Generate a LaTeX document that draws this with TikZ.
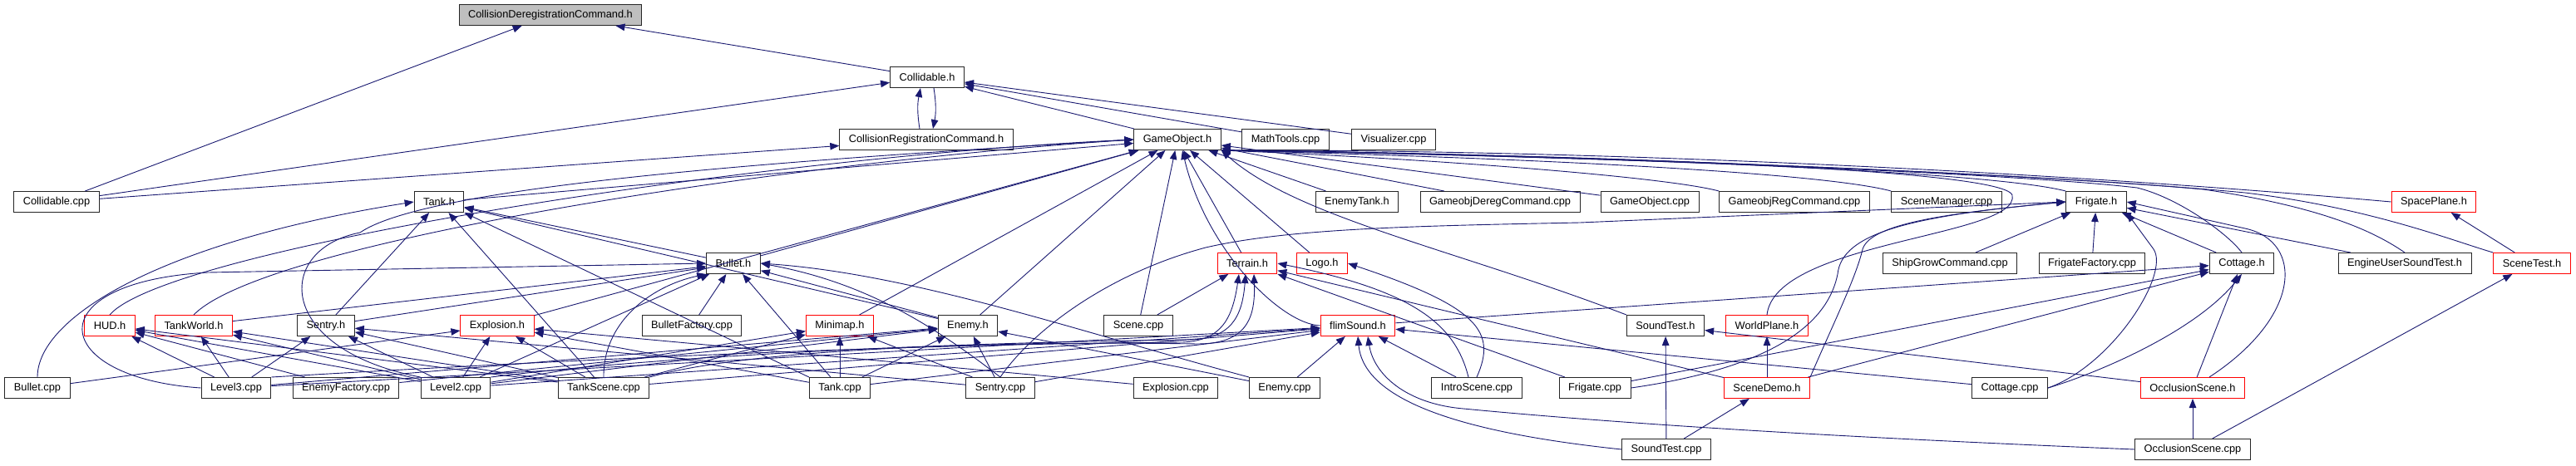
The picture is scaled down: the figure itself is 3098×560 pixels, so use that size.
\documentclass[tikz,border=0pt]{standalone}
\usepackage{fontspec}
\setmainfont{Liberation Sans}
\usetikzlibrary{arrows.meta,calc,positioning}
\definecolor{edgeblue}{RGB}{25,25,112}
\definecolor{rootgray}{RGB}{191,191,191}
\tikzset{
    myfile/.style={draw=black!85,fill=white,line width=1pt,minimum height=25pt,
      inner xsep=11pt,inner ysep=0pt,font=\fontsize{12.8}{15}\selectfont},
    mytrunc/.style={myfile,draw=red},
    myroot/.style={myfile,fill=rootgray},
    myedge/.style={draw=edgeblue,line width=0.9pt,-{Triangle[length=11pt,width=8.5pt]}}
}

\begin{document}
\begin{tikzpicture}[x=1pt,y=-1pt]
  \useasboundingbox (0,0) rectangle (3098,560);

  % 上层
  \node[myroot] (cdch) at (662,18) {CollisionDeregistrationCommand.h};
  \node[myfile] (collh) at (1115,93) {Collidable.h};
  \node[myfile] (crch) at (1114,168) {CollisionRegistrationCommand.h};
  \node[myfile] (goh) at (1416,168) {GameObject.h};
  \node[myfile] (mathcpp) at (1546,168) {MathTools.cpp};
  \node[myfile] (viscpp) at (1676,168) {Visualizer.cpp};

  % 第三层
  \node[myfile] (collcpp) at (68,243) {Collidable.cpp};
  \node[myfile] (tankh) at (528,243) {Tank.h};
  \node[myfile] (etankh) at (1632,243) {EnemyTank.h};
  \node[myfile] (deregcpp) at (1804,243) {GameobjDeregCommand.cpp};
  \node[myfile] (gocpp) at (1984,243) {GameObject.cpp};
  \node[myfile] (regcpp) at (2158,243) {GameobjRegCommand.cpp};
  \node[myfile] (scmgrcpp) at (2341,243) {SceneManager.cpp};
  \node[myfile] (frigh) at (2521,243) {Frigate.h};
  \node[mytrunc] (spaceh) at (2927,243) {SpacePlane.h};

  % 第四层
  \node[myfile] (bulleth) at (882,317) {Bullet.h};
  \node[mytrunc] (terrh) at (1500,317) {Terrain.h};
  \node[mytrunc] (logoh) at (1590,317) {Logo.h};
  \node[myfile] (shipcpp) at (2345,317) {ShipGrowCommand.cpp};
  \node[myfile] (frigfcpp) at (2516,317) {FrigateFactory.cpp};
  \node[myfile] (cottageh) at (2696,317) {Cottage.h};
  \node[myfile] (eustesth) at (2892,317) {EngineUserSoundTest.h};
  \node[mytrunc] (scenetesth) at (3045,317) {SceneTest.h};

  % 第五层
  \node[mytrunc] (hudh) at (132,392) {HUD.h};
  \node[mytrunc] (tworldh) at (233,392) {TankWorld.h};
  \node[myfile] (sentryh) at (392,392) {Sentry.h};
  \node[mytrunc] (explh) at (598,392) {Explosion.h};
  \node[myfile] (bfactcpp) at (832,392) {BulletFactory.cpp};
  \node[mytrunc] (minimaph) at (1010,392) {Minimap.h};
  \node[myfile] (enemyh) at (1164,392) {Enemy.h};
  \node[myfile] (scenecpp) at (1369,392) {Scene.cpp};
  \node[mytrunc] (soundh) at (1633,392) {flimSound.h};
  \node[myfile] (stesth) at (2003,392) {SoundTest.h};
  \node[mytrunc] (wplaneh) at (2125,392) {WorldPlane.h};

  % 第六层
  \node[myfile] (bulletcpp) at (45,467) {Bullet.cpp};
  \node[myfile] (lvl3cpp) at (284,467) {Level3.cpp};
  \node[myfile] (efactcpp) at (416,467) {EnemyFactory.cpp};
  \node[myfile] (lvl2cpp) at (548,467) {Level2.cpp};
  \node[myfile] (tscenecpp) at (726,467) {TankScene.cpp};
  \node[myfile] (tankcpp) at (1010,467) {Tank.cpp};
  \node[myfile] (sentrycpp) at (1203,467) {Sentry.cpp};
  \node[myfile] (explcpp) at (1414,467) {Explosion.cpp};
  \node[myfile] (enemycpp) at (1545,467) {Enemy.cpp};
  \node[myfile] (introcpp) at (1776,467) {IntroScene.cpp};
  \node[myfile] (frigcpp) at (1918,467) {Frigate.cpp};
  \node[mytrunc] (sdemoh) at (2125,467) {SceneDemo.h};
  \node[myfile] (cottcpp) at (2417,467) {Cottage.cpp};
  \node[mytrunc] (occlh) at (2637,467) {OcclusionScene.h};

  % 底层
  \node[myfile] (stestcpp) at (2004,541) {SoundTest.cpp};
  \node[myfile] (occlcpp) at (2637,541) {OcclusionScene.cpp};

  % 顶部连线
  \foreach \a/\b in {collcpp/cdch,collh/cdch,collcpp/collh,goh/collh,
    mathcpp/collh,viscpp/collh,collcpp/crch}{
    \draw[myedge] (\a) -- (\b);
  }
  \draw[myedge] ([xshift=-8pt]crch.north) to[bend left=10] ([xshift=-8pt]collh.south);
  \draw[myedge] ([xshift=8pt]collh.south) to[bend left=10] ([xshift=8pt]crch.north);

  % GameObject.h
  \foreach \a/\b in {tankh/goh,bulleth/goh,explh/goh,minimaph/goh,enemyh/goh,
    scenecpp/goh,terrh/goh,logoh/goh,etankh/goh,deregcpp/goh,gocpp/goh}{
    \draw[myedge] (\a) -- (\b);
  }
  \draw[myedge] (hudh.north) .. controls (200,300) and (900,190) .. (goh.west);
  \draw[myedge] (tworldh.north) .. controls (320,290) and (950,195) .. (goh.west);
  \draw[myedge] (lvl2cpp.north west) .. controls (330,420) and (330,300)
    .. (433,280) .. controls (520,220) and (1000,190) .. (goh.west);
  \draw[myedge] (soundh.west) .. controls (1540,390) and (1450,300) .. ([xshift=6pt]goh.south);
  \draw[myedge] (stesth.north west) .. controls (1750,300) and (1560,262) .. (goh.south east);
  \draw[myedge] (regcpp.north west) .. controls (2000,212) and (1700,190) .. (goh.south east);
  \draw[myedge] (scmgrcpp.north west) .. controls (2200,210) and (1900,192) .. (goh.south east);
  \draw[myedge] (frigh.north west) .. controls (2400,208) and (2000,190) .. (goh.south east);
  \draw[myedge] (spaceh.west) .. controls (2450,205) and (1900,180) .. (goh.south east);
  \draw[myedge] (cottageh.north) .. controls (2680,282) and (2620,238)
    .. (2570,226) .. controls (2400,206) and (1800,185) .. (goh.south east);
  \draw[myedge] (eustesth.north) .. controls (2860,282) and (2800,250)
    .. (2650,228) .. controls (2400,205) and (1800,185) .. (goh.south east);
  \draw[myedge] (scenetesth.north west) .. controls (2950,290) and (2850,250)
    .. (2700,232) .. controls (2450,208) and (1800,183) .. (goh.south east);
  \draw[myedge] (wplaneh.north) .. controls (2135,290) and (2430,285)
    .. (2420,235) .. controls (2410,200) and (1800,185) .. (goh.south east);

  % Tank.h
  \foreach \a/\b in {sentryh/tankh,tscenecpp/tankh,
    tankcpp.north west/tankh.south east,bulleth/tankh,enemyh/tankh}{
    \draw[myedge] (\a) -- (\b);
  }
  \draw[myedge] (bulletcpp.north) .. controls (45,380) and (200,290) .. (tankh.west);

  % Bullet.h
  \foreach \a/\b in {sentryh/bulleth,tworldh/bulleth,lvl2cpp/bulleth,
    bfactcpp/bulleth,tankcpp/bulleth,enemyh/bulleth}{
    \draw[myedge] (\a) -- (\b);
  }
  \draw[myedge] (lvl3cpp.west) .. controls (60,455) and (40,340)
    .. (250,328) -- (bulleth.west);
  \draw[myedge] (tscenecpp.north) .. controls (725,390) and (780,345) .. (bulleth.south west);
  \draw[myedge] (enemycpp.north west) .. controls (1300,400) and (1100,330) .. (bulleth.east);
  \draw[myedge] (sentrycpp.north) .. controls (1120,390) and (1040,340) .. (bulleth.east);

  % Sentry.h, HUD.h, TankWorld.h
  \foreach \a/\b in {lvl3cpp/sentryh,lvl2cpp/sentryh,tscenecpp/sentryh,
    sentrycpp/sentryh,lvl3cpp/hudh,efactcpp/hudh,lvl2cpp/hudh,tscenecpp/hudh,
    lvl3cpp/tworldh,lvl2cpp/tworldh,tscenecpp/tworldh}{
    \draw[myedge] (\a) -- (\b);
  }

  % Explosion.h, Minimap.h, Enemy.h
  \foreach \a/\b in {bulletcpp/explh,lvl2cpp/explh,tscenecpp/explh,
    tankcpp/explh,explcpp/explh,tankcpp/minimaph,tscenecpp/minimaph,
    lvl2cpp/minimaph,sentrycpp/minimaph,lvl3cpp/enemyh,efactcpp/enemyh,
    lvl2cpp/enemyh,tankcpp/enemyh,sentrycpp/enemyh,enemycpp/enemyh}{
    \draw[myedge] (\a) -- (\b);
  }

  % Terrain.h, Logo.h
  \foreach \a/\b in {scenecpp/terrh,frigcpp/terrh,sdemoh/terrh}{
    \draw[myedge] (\a) -- (\b);
  }
  \draw[myedge] (lvl3cpp.north east) .. controls (700,432) and (1100,414)
    .. (1422,412) .. controls (1468,410) and (1482,385) .. ([xshift=-10pt]terrh.south);
  \draw[myedge] (lvl2cpp.north east) .. controls (800,428) and (1150,412)
    .. (1430,409) .. controls (1480,408) and (1494,382) .. ([xshift=-2pt]terrh.south);
  \draw[myedge] (tscenecpp.north east) .. controls (900,420) and (1200,410)
    .. (1440,414) .. controls (1500,414) and (1510,382) .. ([xshift=8pt]terrh.south);
  \draw[myedge] (introcpp.north) .. controls (1800,400) and (1780,370) .. (logoh.east);
  \draw[myedge] ([xshift=-10pt]introcpp.north) .. controls (1750,390) and (1700,350) .. (terrh.east);

  % flimSound.h
  \foreach \a/\b in {lvl3cpp/soundh,lvl2cpp/soundh,tscenecpp/soundh,
    tankcpp/soundh,sentrycpp/soundh,enemycpp/soundh,introcpp/soundh,
    cottcpp/soundh}{
    \draw[myedge] (\a) -- (\b);
  }
  \draw[myedge] (stestcpp.west) .. controls (1750,520) and (1640,480) .. (soundh.south);
  \draw[myedge] (occlcpp.west) .. controls (2300,530) and (2000,515)
    .. (1760,492) .. controls (1690,486) and (1652,450) .. ([xshift=12pt]soundh.south);

  % SoundTest.h, WorldPlane.h, SceneDemo.h
  \foreach \a/\b in {stestcpp/stesth,occlh/stesth,sdemoh/wplaneh,
    stestcpp/sdemoh}{
    \draw[myedge] (\a) -- (\b);
  }

  % Frigate.h
  \foreach \a/\b in {frigfcpp/frigh,shipcpp/frigh,cottageh/frigh,eustesth/frigh}{
    \draw[myedge] (\a) -- (\b);
  }
  \draw[myedge] (sdemoh.north east) .. controls (2200,400) and (2232,335)
    .. (2240,300) .. controls (2250,268) and (2350,256) .. (frigh.west);
  \draw[myedge] (frigcpp.east) .. controls (2150,440) and (2200,380)
    .. (2210,330) .. controls (2215,280) and (2300,260) .. (frigh.west);
  \draw[myedge] (sentrycpp.north) .. controls (1240,400) and (1330,330)
    .. (1450,298) .. controls (1550,275) and (1700,272) .. (1900,268) -- (frigh.west);
  \draw[myedge] (cottcpp.east) .. controls (2540,440) and (2610,330)
    .. (2590,300) -- (frigh.south east);
  \draw[myedge] ([xshift=20pt]occlh.north) .. controls (2770,380) and (2770,290)
    .. (2700,275) -- (frigh.east);

  % Cottage.h
  \foreach \a/\b in {sdemoh/cottageh,occlh/cottageh,frigcpp/cottageh,
    soundh/cottageh}{
    \draw[myedge] (\a) -- (\b);
  }
  \draw[myedge] (cottcpp.east) .. controls (2520,450) and (2640,400) .. (cottageh.south);

  % 右侧
  \foreach \a/\b in {occlcpp/scenetesth,scenetesth/spaceh,occlcpp/occlh}{
    \draw[myedge] (\a) -- (\b);
  }
\end{tikzpicture}
\end{document}
